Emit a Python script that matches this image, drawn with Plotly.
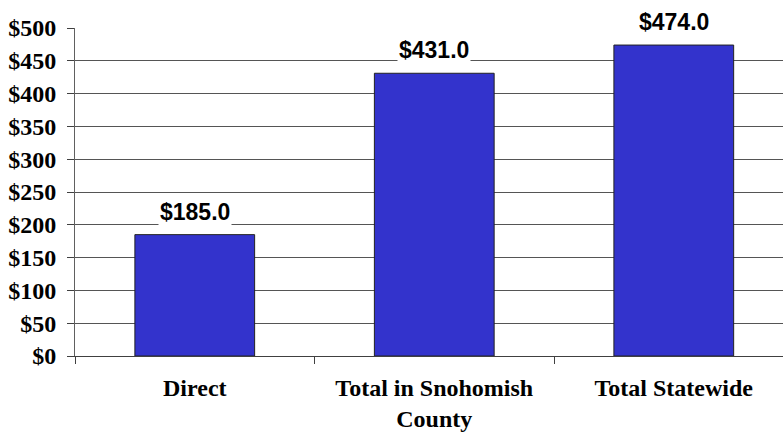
import plotly.graph_objects as go

categories = ["Direct", "Total in Snohomish<br>County", "Total Statewide"]
values = [185.0, 431.0, 474.0]
label_texts = ["$185.0", "$431.0", "$474.0"]
y_ticks = [0, 50, 100, 150, 200, 250, 300, 350, 400, 450, 500]
y_tick_labels = ["$0", "$50", "$100", "$150", "$200", "$250", "$300", "$350", "$400", "$450", "$500"]

serif = "Liberation Serif, Times New Roman, serif"
sans = "Liberation Sans, Arial, sans-serif"

fig = go.Figure()
fig.add_trace(go.Bar(
    x=categories, y=values,
    marker=dict(color="#3333CC", line=dict(color="#222222", width=1)),
    width=0.5,
    hoverinfo="skip",
))

for c, v, t in zip(categories, values, label_texts):
    fig.add_annotation(
        x=c, y=v, xref="x", yref="y", text=t, showarrow=False,
        yanchor="bottom", yshift=8,
        font=dict(family=sans, size=23, color="black", weight="bold"),
        bgcolor="white", borderpad=1,
    )

fig.update_layout(
    width=783, height=433,
    margin=dict(l=75, r=0, t=28, b=77),
    paper_bgcolor="white", plot_bgcolor="white",
    showlegend=False,
    bargap=0.5,
    xaxis=dict(
        type="category",
        range=[-0.5, 2.456],
        automargin=False,
        showgrid=False,
        showline=True, linecolor="#404040", linewidth=1,
        ticks="outside", ticklen=7, tickcolor="#404040",
        tickson="boundaries",
        tickfont=dict(family=serif, size=24, color="black", weight="bold"),
        ticklabelstandoff=10,
        zeroline=False,
    ),
    yaxis=dict(
        range=[0, 500],
        automargin=False,
        tickvals=y_ticks, ticktext=y_tick_labels,
        showgrid=True, gridcolor="#555555", gridwidth=1,
        showline=True, linecolor="#606060", linewidth=1,
        ticks="outside", ticklen=7, tickcolor="#404040",
        tickfont=dict(family=serif, size=24, color="black", weight="bold"),
        ticklabelstandoff=6,
        zeroline=False,
    ),
)

fig.write_html(
    "out.html",
    config={"displayModeBar": False},
    post_script="document.body.style.margin='0';document.body.style.overflow='hidden';",
)
